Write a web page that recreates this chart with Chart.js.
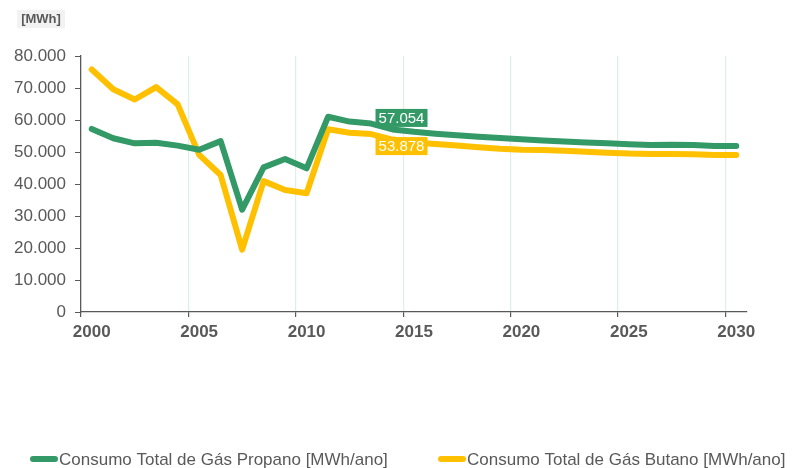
<!DOCTYPE html>
<html>
<head>
<meta charset="utf-8">
<script src="https://cdn.jsdelivr.net/npm/chart.js@4/dist/chart.umd.min.js"></script>
<style>
  body { margin: 0; background: #fff; }
  canvas { display: block; }
</style>
</head>
<body>
<canvas id="gasChart" width="794" height="468"></canvas>
<script>
const years = [];
for (let y = 2000; y <= 2030; y++) years.push(String(y));

const propano = [57200, 54300, 52700, 52900, 52000, 50700, 53400, 32000, 45200, 47800, 44900,
  61000, 59500, 58900, 57054, 56300, 55700, 55200, 54800, 54400, 54000,
  53600, 53300, 53000, 52700, 52400, 52200, 52300, 52200, 51900, 51900];
const butano = [75800, 69600, 66400, 70300, 64900, 49100, 42800, 19500, 40900, 38100, 37100,
  57100, 56000, 55600, 53878, 53000, 52500, 52000, 51500, 51000, 50700,
  50600, 50400, 50100, 49800, 49500, 49400, 49400, 49300, 49100, 49100];

const seriesNames = ['Consumo Total de Gás Propano [MWh/ano]', 'Consumo Total de Gás Butano [MWh/ano]'];
const yTicks = [0, 10000, 20000, 30000, 40000, 50000, 60000, 70000, 80000];
const labelIndex = 14;
const unitLabel = '[MWh]';

const green = '#339966';
const yellow = '#ffc000';
const grey = '#595959';
const fontFam = '"Liberation Sans", Arial, sans-serif';

function fmt(v) {
  return String(v).replace(/\B(?=(\d{3})+(?!\d))/g, '.');
}

// unit box in the top left corner
const unitPlugin = {
  id: 'unitBox',
  afterDraw(chart) {
    const ctx = chart.ctx;
    ctx.save();
    ctx.fillStyle = '#f2f2f2';
    ctx.fillRect(17, 10, 48, 18);
    ctx.fillStyle = grey;
    ctx.font = 'bold 13px ' + fontFam;
    ctx.textAlign = 'center';
    ctx.textBaseline = 'middle';
    ctx.fillText(unitLabel, 41, 19.5);
    ctx.restore();
  }
};

// value boxes on the 2014 points
const valuePlugin = {
  id: 'valueBoxes',
  afterDatasetsDraw(chart) {
    const ctx = chart.ctx;
    ctx.save();
    ctx.font = '15px ' + fontFam;
    ctx.textAlign = 'center';
    ctx.textBaseline = 'middle';
    chart.data.datasets.forEach((ds, i) => {
      const pt = chart.getDatasetMeta(i).data[labelIndex];
      const cx = pt.x + 9;
      const cy = i === 0 ? pt.y - 11.5 : pt.y + 6.5;
      ctx.fillStyle = ds.borderColor;
      ctx.fillRect(cx - 26, cy - 9, 52, 18);
      ctx.fillStyle = '#fff';
      ctx.fillText(fmt(ds.data[labelIndex]), cx, cy + 1);
    });
    ctx.restore();
  }
};

// legend row along the bottom edge
const legendPlugin = {
  id: 'bottomLegend',
  afterDraw(chart) {
    const ctx = chart.ctx;
    const starts = [30, 438];
    const cy = 459;
    ctx.save();
    ctx.font = '17px ' + fontFam;
    ctx.textBaseline = 'middle';
    ctx.textAlign = 'left';
    chart.data.datasets.forEach((ds, i) => {
      const x = starts[i];
      ctx.fillStyle = ds.borderColor;
      ctx.beginPath();
      ctx.roundRect(x, cy - 3, 28, 6, 3);
      ctx.fill();
      ctx.fillStyle = grey;
      ctx.fillText(ds.label, x + 29, cy + 1);
    });
    ctx.restore();
  }
};

new Chart(document.getElementById('gasChart').getContext('2d'), {
  type: 'line',
  data: {
    labels: years,
    datasets: [
      { label: seriesNames[0], data: propano, borderColor: green, backgroundColor: green },
      { label: seriesNames[1], data: butano, borderColor: yellow, backgroundColor: yellow }
    ]
  },
  options: {
    responsive: false,
    animation: false,
    layout: { padding: { left: 0, right: 47, top: 56, bottom: 0 } },
    elements: {
      line: { borderWidth: 6, tension: 0, borderCapStyle: 'round', borderJoinStyle: 'round', fill: false },
      point: { radius: 0 }
    },
    scales: {
      x: {
        offset: true,
        grid: {
          offset: true,
          drawOnChartArea: true,
          color: c => (c.index > 0 && c.index % 5 === 0) ? '#dcefe9' : 'rgba(0,0,0,0)',
          tickColor: c => (c.index % 5 === 0) ? grey : 'rgba(0,0,0,0)',
          tickLength: 5,
          lineWidth: 1.2
        },
        border: { display: true, color: grey, width: 1.3 },
        ticks: {
          autoSkip: false,
          maxRotation: 0,
          padding: 5,
          color: grey,
          font: { family: fontFam, size: 17, weight: 'bold' },
          callback: function (v, i) { return i % 5 === 0 ? this.getLabelForValue(v) : ''; }
        },
        afterFit: s => { s.height = 156; }
      },
      y: {
        min: 0,
        max: 80000,
        afterBuildTicks: s => { s.ticks = yTicks.map(v => ({ value: v })); },
        grid: { drawOnChartArea: false, tickLength: 6, tickColor: grey },
        border: { display: true, color: grey, width: 1.3 },
        ticks: {
          autoSkip: false,
          padding: 9,
          color: grey,
          font: { family: fontFam, size: 17 },
          callback: v => fmt(v)
        },
        afterFit: s => { s.width = 81; }
      }
    },
    plugins: {
      tooltip: { enabled: false },
      legend: { display: false }
    }
  },
  plugins: [unitPlugin, valuePlugin, legendPlugin]
});
</script>
</body>
</html>
